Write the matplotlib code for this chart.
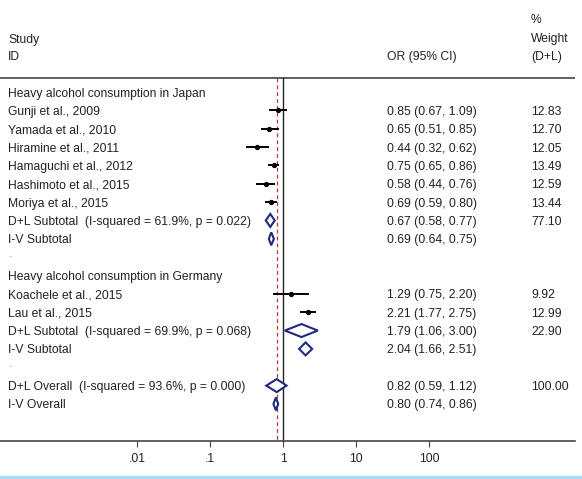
import numpy as np
import matplotlib.pyplot as plt
import matplotlib.transforms as mtransforms
from matplotlib.lines import Line2D

plt.rcParams['font.family'] = ['Liberation Sans', 'DejaVu Sans']

# study level data
japan_ids = ['Gunji et al., 2009', 'Yamada et al., 2010', 'Hiramine et al., 2011',
             'Hamaguchi et al., 2012', 'Hashimoto et al., 2015', 'Moriya et al., 2015']
japan_or = [0.85, 0.65, 0.44, 0.75, 0.58, 0.69]
japan_lo = [0.67, 0.51, 0.32, 0.65, 0.44, 0.59]
japan_hi = [1.09, 0.85, 0.62, 0.86, 0.76, 0.80]
japan_w = ['12.83', '12.70', '12.05', '13.49', '12.59', '13.44']

germany_ids = ['Koachele et al., 2015', 'Lau et al., 2015']
germany_or = [1.29, 2.21]
germany_lo = [0.75, 1.77]
germany_hi = [2.20, 2.75]
germany_w = ['9.92', '12.99']

# pooled estimates (est, lo, hi)
japan_dl = (0.67, 0.58, 0.77)
japan_iv = (0.69, 0.64, 0.75)
germany_dl = (1.79, 1.06, 3.00)
germany_iv = (2.04, 1.66, 2.51)
overall_dl = (0.82, 0.59, 1.12)
overall_iv = (0.80, 0.74, 0.86)
japan_dl_w = '77.10'
germany_dl_w = '22.90'
overall_dl_w = '100.00'

japan_dl_lab = 'D+L Subtotal  (I-squared = 61.9%, p = 0.022)'
germany_dl_lab = 'D+L Subtotal  (I-squared = 69.9%, p = 0.068)'
overall_dl_lab = 'D+L Overall  (I-squared = 93.6%, p = 0.000)'

xticks = [0.01, 0.1, 1, 10, 100]
xtick_labels = ['.01', '.1', '1', '10', '100']

# build rows: (kind, label, est, lo, hi, weight)
rows = [('head', 'Heavy alcohol consumption in Japan', None, None, None, '')]
for i in range(len(japan_ids)):
    rows.append(('study', japan_ids[i], japan_or[i], japan_lo[i], japan_hi[i], japan_w[i]))
rows.append(('dl', japan_dl_lab) + japan_dl + (japan_dl_w,))
rows.append(('iv', 'I-V Subtotal') + japan_iv + ('',))
rows.append(('dot', '.', None, None, None, ''))
rows.append(('head', 'Heavy alcohol consumption in Germany', None, None, None, ''))
for i in range(len(germany_ids)):
    rows.append(('study', germany_ids[i], germany_or[i], germany_lo[i], germany_hi[i], germany_w[i]))
rows.append(('dl', germany_dl_lab) + germany_dl + (germany_dl_w,))
rows.append(('iv', 'I-V Subtotal') + germany_iv + ('',))
rows.append(('dot', '.', None, None, None, ''))
rows.append(('dl', overall_dl_lab) + overall_dl + (overall_dl_w,))
rows.append(('iv', 'I-V Overall') + overall_iv + ('',))

W, H = 582, 479
fig = plt.figure(figsize=(W / 100, H / 100), dpi=100)
ax = fig.add_axes([0, 0, 575 / W, 1])
ax.set_xscale('log')
one_px, dec_px = 283, 73.0
ax.set_xlim(10 ** (-one_px / dec_px), 10 ** ((575 - one_px) / dec_px))
ax.set_ylim(H, 0)

txt = '#222222'
navy = '#1f2a7c'
fs = 8.7
va = 'center_baseline'
tr = mtransforms.blended_transform_factory(fig.transFigure, ax.transData)

y_top, y_axis = 78, 441
row0, step = 92, 18.35

# headers
ax.text(8 / W, 38, 'Study', transform=tr, fontsize=fs, color=txt, va=va)
ax.text(8 / W, 55, 'ID', transform=tr, fontsize=fs, color=txt, va=va)
ax.text(387 / W, 55, 'OR (95% CI)', transform=tr, fontsize=fs, color=txt, va=va)
ax.text(531 / W, 18, '%', transform=tr, fontsize=fs, color=txt, va=va)
ax.text(531 / W, 37, 'Weight', transform=tr, fontsize=fs, color=txt, va=va)
ax.text(531 / W, 55, '(D+L)', transform=tr, fontsize=fs, color=txt, va=va)

ax.axhline(y_top, color='#444444', lw=1.2)
ax.plot([1, 1], [y_top, y_axis], color='#222222', lw=1.0)
ax.plot([overall_dl[0]] * 2, [y_top, y_axis], color='#b03a3a', lw=0.9, ls=(0, (3, 2.5)))

for i, (kind, lab, est, lo, hi, w) in enumerate(rows):
    y = row0 + i * step
    if kind == 'dot':
        ax.text(9 / W, y - 3, lab, transform=tr, fontsize=5, color=txt, va=va)
        continue
    ax.text(8 / W, y, lab, transform=tr, fontsize=fs, color=txt, va=va)
    if kind == 'head':
        continue
    ax.text(387 / W, y, '%.2f (%.2f, %.2f)' % (est, lo, hi), transform=tr,
            fontsize=fs, color=txt, va=va)
    if w:
        ax.text(531 / W, y, w, transform=tr, fontsize=fs, color=txt, va=va)
    if kind == 'study':
        ax.plot([lo, hi], [y, y], color='black', lw=1.4)
        ax.plot(est, y, 'o', color='black', ms=2.8)
    else:
        h = 6.5
        ax.fill([lo, est, hi, est], [y, y - h, y, y + h], facecolor='white',
                edgecolor=navy, lw=1.5, zorder=3)

for s in ['top', 'left', 'right']:
    ax.spines[s].set_visible(False)
ax.spines['bottom'].set_position(('data', y_axis))
ax.spines['bottom'].set_color('#444444')
ax.spines['bottom'].set_linewidth(1.2)
ax.set_yticks([])
ax.set_xticks(xticks)
ax.set_xticklabels(xtick_labels)
ax.xaxis.set_minor_locator(plt.NullLocator())
ax.tick_params(axis='x', direction='out', length=4, width=0.8, pad=4.5,
               labelsize=fs, colors='#444444', labelcolor=txt)
ax.patch.set_visible(False)

fig.add_artist(Line2D([0, 1], [1.8 / H, 1.8 / H], transform=fig.transFigure,
                      color='#a8dcf5', lw=2.5))

fig.savefig('out.png', dpi=100)
